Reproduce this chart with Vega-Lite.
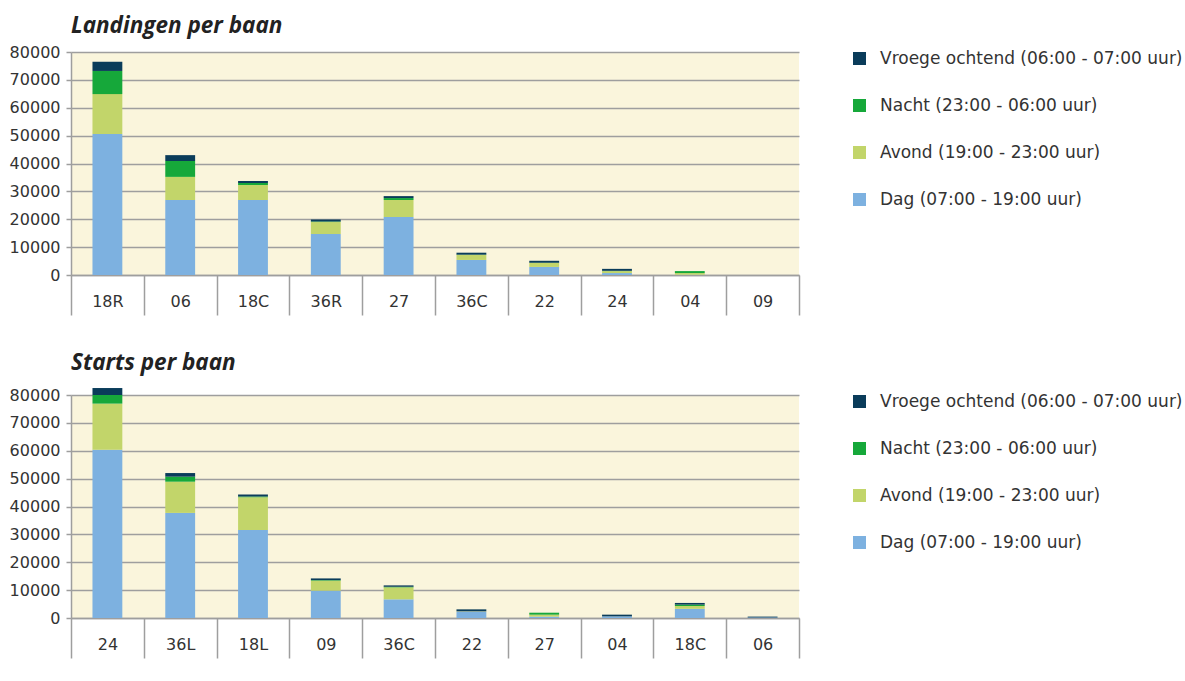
{
  "$schema": "https://vega.github.io/schema/vega-lite/v6.json",
  "padding": {"left": 9, "top": 14, "right": 4, "bottom": 4},
  "background": "white",
  "datasets": {
    "landingen": [
      {"baan": "18R", "periode": "Dag (07:00 - 19:00 uur)", "aantal": 50600},
      {"baan": "18R", "periode": "Avond (19:00 - 23:00 uur)", "aantal": 14300},
      {"baan": "18R", "periode": "Nacht (23:00 - 06:00 uur)", "aantal": 8300},
      {"baan": "18R", "periode": "Vroege ochtend (06:00 - 07:00 uur)", "aantal": 3300},
      {"baan": "06", "periode": "Dag (07:00 - 19:00 uur)", "aantal": 26900},
      {"baan": "06", "periode": "Avond (19:00 - 23:00 uur)", "aantal": 8300},
      {"baan": "06", "periode": "Nacht (23:00 - 06:00 uur)", "aantal": 5700},
      {"baan": "06", "periode": "Vroege ochtend (06:00 - 07:00 uur)", "aantal": 2100},
      {"baan": "18C", "periode": "Dag (07:00 - 19:00 uur)", "aantal": 26900},
      {"baan": "18C", "periode": "Avond (19:00 - 23:00 uur)", "aantal": 5400},
      {"baan": "18C", "periode": "Nacht (23:00 - 06:00 uur)", "aantal": 700},
      {"baan": "18C", "periode": "Vroege ochtend (06:00 - 07:00 uur)", "aantal": 700},
      {"baan": "36R", "periode": "Dag (07:00 - 19:00 uur)", "aantal": 14700},
      {"baan": "36R", "periode": "Avond (19:00 - 23:00 uur)", "aantal": 4300},
      {"baan": "36R", "periode": "Nacht (23:00 - 06:00 uur)", "aantal": 200},
      {"baan": "36R", "periode": "Vroege ochtend (06:00 - 07:00 uur)", "aantal": 700},
      {"baan": "27", "periode": "Dag (07:00 - 19:00 uur)", "aantal": 20800},
      {"baan": "27", "periode": "Avond (19:00 - 23:00 uur)", "aantal": 6100},
      {"baan": "27", "periode": "Nacht (23:00 - 06:00 uur)", "aantal": 700},
      {"baan": "27", "periode": "Vroege ochtend (06:00 - 07:00 uur)", "aantal": 700},
      {"baan": "36C", "periode": "Dag (07:00 - 19:00 uur)", "aantal": 5400},
      {"baan": "36C", "periode": "Avond (19:00 - 23:00 uur)", "aantal": 1800},
      {"baan": "36C", "periode": "Nacht (23:00 - 06:00 uur)", "aantal": 100},
      {"baan": "36C", "periode": "Vroege ochtend (06:00 - 07:00 uur)", "aantal": 700},
      {"baan": "22", "periode": "Dag (07:00 - 19:00 uur)", "aantal": 2900},
      {"baan": "22", "periode": "Avond (19:00 - 23:00 uur)", "aantal": 1400},
      {"baan": "22", "periode": "Nacht (23:00 - 06:00 uur)", "aantal": 100},
      {"baan": "22", "periode": "Vroege ochtend (06:00 - 07:00 uur)", "aantal": 700},
      {"baan": "24", "periode": "Dag (07:00 - 19:00 uur)", "aantal": 700},
      {"baan": "24", "periode": "Avond (19:00 - 23:00 uur)", "aantal": 700},
      {"baan": "24", "periode": "Nacht (23:00 - 06:00 uur)", "aantal": 100},
      {"baan": "24", "periode": "Vroege ochtend (06:00 - 07:00 uur)", "aantal": 700},
      {"baan": "04", "periode": "Dag (07:00 - 19:00 uur)", "aantal": 100},
      {"baan": "04", "periode": "Avond (19:00 - 23:00 uur)", "aantal": 600},
      {"baan": "04", "periode": "Nacht (23:00 - 06:00 uur)", "aantal": 700},
      {"baan": "04", "periode": "Vroege ochtend (06:00 - 07:00 uur)", "aantal": 0},
      {"baan": "09", "periode": "Dag (07:00 - 19:00 uur)", "aantal": 0},
      {"baan": "09", "periode": "Avond (19:00 - 23:00 uur)", "aantal": 0},
      {"baan": "09", "periode": "Nacht (23:00 - 06:00 uur)", "aantal": 0},
      {"baan": "09", "periode": "Vroege ochtend (06:00 - 07:00 uur)", "aantal": 0}
    ],
    "starts": [
      {"baan": "24", "periode": "Dag (07:00 - 19:00 uur)", "aantal": 60400},
      {"baan": "24", "periode": "Avond (19:00 - 23:00 uur)", "aantal": 16500},
      {"baan": "24", "periode": "Nacht (23:00 - 06:00 uur)", "aantal": 3100},
      {"baan": "24", "periode": "Vroege ochtend (06:00 - 07:00 uur)", "aantal": 2500},
      {"baan": "36L", "periode": "Dag (07:00 - 19:00 uur)", "aantal": 37700},
      {"baan": "36L", "periode": "Avond (19:00 - 23:00 uur)", "aantal": 11200},
      {"baan": "36L", "periode": "Nacht (23:00 - 06:00 uur)", "aantal": 1800},
      {"baan": "36L", "periode": "Vroege ochtend (06:00 - 07:00 uur)", "aantal": 1300},
      {"baan": "18L", "periode": "Dag (07:00 - 19:00 uur)", "aantal": 31600},
      {"baan": "18L", "periode": "Avond (19:00 - 23:00 uur)", "aantal": 11700},
      {"baan": "18L", "periode": "Nacht (23:00 - 06:00 uur)", "aantal": 300},
      {"baan": "18L", "periode": "Vroege ochtend (06:00 - 07:00 uur)", "aantal": 700},
      {"baan": "09", "periode": "Dag (07:00 - 19:00 uur)", "aantal": 9800},
      {"baan": "09", "periode": "Avond (19:00 - 23:00 uur)", "aantal": 3600},
      {"baan": "09", "periode": "Nacht (23:00 - 06:00 uur)", "aantal": 200},
      {"baan": "09", "periode": "Vroege ochtend (06:00 - 07:00 uur)", "aantal": 600},
      {"baan": "36C", "periode": "Dag (07:00 - 19:00 uur)", "aantal": 6700},
      {"baan": "36C", "periode": "Avond (19:00 - 23:00 uur)", "aantal": 4300},
      {"baan": "36C", "periode": "Nacht (23:00 - 06:00 uur)", "aantal": 200},
      {"baan": "36C", "periode": "Vroege ochtend (06:00 - 07:00 uur)", "aantal": 500},
      {"baan": "22", "periode": "Dag (07:00 - 19:00 uur)", "aantal": 2300},
      {"baan": "22", "periode": "Avond (19:00 - 23:00 uur)", "aantal": 100},
      {"baan": "22", "periode": "Nacht (23:00 - 06:00 uur)", "aantal": 0},
      {"baan": "22", "periode": "Vroege ochtend (06:00 - 07:00 uur)", "aantal": 700},
      {"baan": "27", "periode": "Dag (07:00 - 19:00 uur)", "aantal": 500},
      {"baan": "27", "periode": "Avond (19:00 - 23:00 uur)", "aantal": 700},
      {"baan": "27", "periode": "Nacht (23:00 - 06:00 uur)", "aantal": 700},
      {"baan": "27", "periode": "Vroege ochtend (06:00 - 07:00 uur)", "aantal": 0},
      {"baan": "04", "periode": "Dag (07:00 - 19:00 uur)", "aantal": 600},
      {"baan": "04", "periode": "Avond (19:00 - 23:00 uur)", "aantal": 0},
      {"baan": "04", "periode": "Nacht (23:00 - 06:00 uur)", "aantal": 0},
      {"baan": "04", "periode": "Vroege ochtend (06:00 - 07:00 uur)", "aantal": 600},
      {"baan": "18C", "periode": "Dag (07:00 - 19:00 uur)", "aantal": 3300},
      {"baan": "18C", "periode": "Avond (19:00 - 23:00 uur)", "aantal": 1000},
      {"baan": "18C", "periode": "Nacht (23:00 - 06:00 uur)", "aantal": 500},
      {"baan": "18C", "periode": "Vroege ochtend (06:00 - 07:00 uur)", "aantal": 600},
      {"baan": "06", "periode": "Dag (07:00 - 19:00 uur)", "aantal": 200},
      {"baan": "06", "periode": "Avond (19:00 - 23:00 uur)", "aantal": 0},
      {"baan": "06", "periode": "Nacht (23:00 - 06:00 uur)", "aantal": 0},
      {"baan": "06", "periode": "Vroege ochtend (06:00 - 07:00 uur)", "aantal": 300}
    ]
  },
  "config": {
    "font": "DejaVu Sans",
    "view": {"fill": "#FAF5DC", "stroke": null},
    "axis": {
      "labelColor": "#333333",
      "labelFontSize": 16,
      "labelFont": "DejaVu Sans",
      "domainColor": "#9E9E9E",
      "tickColor": "#9E9E9E",
      "gridColor": "#9E9E9E",
      "domainWidth": 1.5,
      "tickWidth": 1.5,
      "gridWidth": 1.5,
      "title": null
    },
    "title": {
      "font": "Open Sans",
      "fontSize": 22.5,
      "fontStyle": "italic",
      "fontWeight": "bold",
      "anchor": "start",
      "frame": "group",
      "color": "#222222"
    },
    "legend": {
      "orient": "none",
      "legendX": 780,
      "legendY": -2,
      "title": null,
      "symbolType": "square",
      "symbolSize": 170,
      "symbolStrokeWidth": 0,
      "labelFontSize": 17,
      "labelColor": "#333333",
      "labelFont": "DejaVu Sans",
      "labelOffset": 12,
      "rowPadding": 29,
      "labelLimit": 400,
      "padding": 0
    }
  },
  "bounds": "flush",
  "spacing": 120,
  "resolve": {
    "scale": {"x": "independent"},
    "legend": {"color": "independent"}
  },
  "vconcat": [
    {
      "title": {"text": "Landingen per baan", "offset": 7},
      "width": 728,
      "height": 223,
      "data": {"name": "landingen"},
      "transform": [
        {"calculate": "indexof(['Dag (07:00 - 19:00 uur)', 'Avond (19:00 - 23:00 uur)', 'Nacht (23:00 - 06:00 uur)', 'Vroege ochtend (06:00 - 07:00 uur)'], datum.periode)", "as": "stapel"}
      ],
      "mark": {"type": "bar", "width": {"band": 0.41}},
      "encoding": {
        "x": {
          "field": "baan", "type": "nominal", "sort": null,
          "scale": {"paddingInner": 0, "paddingOuter": 0},
          "axis": {"labelAngle": 0, "tickBand": "extent", "tickSize": 40, "labelPadding": -22, "grid": false}
        },
        "y": {
          "field": "aantal", "type": "quantitative", "stack": "zero",
          "scale": {"domain": [0, 80000], "nice": false},
          "axis": {"values": [0, 10000, 20000, 30000, 40000, 50000, 60000, 70000, 80000], "format": "d", "tickSize": 5, "labelPadding": 6, "grid": true}
        },
        "color": {
          "field": "periode", "type": "nominal",
          "scale": {
            "domain": ["Vroege ochtend (06:00 - 07:00 uur)", "Nacht (23:00 - 06:00 uur)", "Avond (19:00 - 23:00 uur)", "Dag (07:00 - 19:00 uur)"],
            "range": ["#0A3C5A", "#16A83A", "#C2D56A", "#7DB1E0"]
          }
        },
        "order": {"field": "stapel", "type": "quantitative"}
      }
    },
    {
      "title": {"text": "Starts per baan", "offset": 13},
      "width": 728,
      "height": 223,
      "data": {"name": "starts"},
      "transform": [
        {"calculate": "indexof(['Dag (07:00 - 19:00 uur)', 'Avond (19:00 - 23:00 uur)', 'Nacht (23:00 - 06:00 uur)', 'Vroege ochtend (06:00 - 07:00 uur)'], datum.periode)", "as": "stapel"}
      ],
      "mark": {"type": "bar", "width": {"band": 0.41}},
      "encoding": {
        "x": {
          "field": "baan", "type": "nominal", "sort": null,
          "scale": {"paddingInner": 0, "paddingOuter": 0},
          "axis": {"labelAngle": 0, "tickBand": "extent", "tickSize": 40, "labelPadding": -22, "grid": false}
        },
        "y": {
          "field": "aantal", "type": "quantitative", "stack": "zero",
          "scale": {"domain": [0, 80000], "nice": false},
          "axis": {"values": [0, 10000, 20000, 30000, 40000, 50000, 60000, 70000, 80000], "format": "d", "tickSize": 5, "labelPadding": 6, "grid": true}
        },
        "color": {
          "field": "periode", "type": "nominal",
          "scale": {
            "domain": ["Vroege ochtend (06:00 - 07:00 uur)", "Nacht (23:00 - 06:00 uur)", "Avond (19:00 - 23:00 uur)", "Dag (07:00 - 19:00 uur)"],
            "range": ["#0A3C5A", "#16A83A", "#C2D56A", "#7DB1E0"]
          }
        },
        "order": {"field": "stapel", "type": "quantitative"}
      }
    }
  ]
}
